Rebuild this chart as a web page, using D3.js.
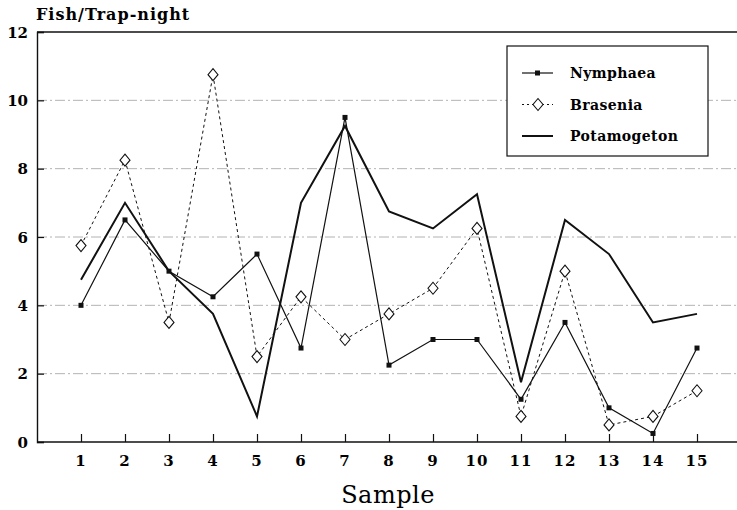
<!DOCTYPE html>
<html>
<head>
<meta charset="utf-8">
<script src="https://cdn.jsdelivr.net/npm/d3@7"></script>
<style>
  body { margin: 0; background: #fff; }
  svg { display: block; }
</style>
</head>
<body>
<div id="chart"></div>
<script>
// chart data
const samples = [1, 2, 3, 4, 5, 6, 7, 8, 9, 10, 11, 12, 13, 14, 15];
const nymphaea = [4, 6.5, 5, 4.25, 5.5, 2.75, 9.5, 2.25, 3, 3, 1.25, 3.5, 1, 0.25, 2.75];
const brasenia = [5.75, 8.25, 3.5, 10.75, 2.5, 4.25, 3, 3.75, 4.5, 6.25, 0.75, 5, 0.5, 0.75, 1.5];
const potamogeton = [4.75, 7, 5, 3.75, 0.75, 7, 9.25, 6.75, 6.25, 7.25, 1.75, 6.5, 5.5, 3.5, 3.75];
const yTicks = [0, 2, 4, 6, 8, 10, 12];
const seriesNames = ["Nymphaea", "Brasenia", "Potamogeton"];

const width = 737, height = 510;
const font = "'DejaVu Serif', serif";

const svg = d3.select("#chart")
  .append("svg")
    .attr("width", width)
    .attr("height", height);

// scales
const x = d3.scaleLinear().domain([0, 16]).range([37, 741]);
const y = d3.scaleLinear().domain([0, 12]).range([442, 32]);

// gridlines (dash-dot grey)
svg.append("g")
  .selectAll("line")
  .data(yTicks.filter(d => d > 0 && d < 12))
  .join("line")
    .attr("x1", x(0))
    .attr("x2", width)
    .attr("y1", d => y(d))
    .attr("y2", d => y(d))
    .attr("stroke", "#a0a0a0")
    .attr("stroke-width", 0.8)
    .attr("stroke-dasharray", "10,3,2,3");

// top frame line
svg.append("line")
  .attr("x1", x(0)).attr("x2", width)
  .attr("y1", y(12)).attr("y2", y(12))
  .attr("stroke", "#111").attr("stroke-width", 1.3);

// y axis
const yAxis = svg.append("g")
  .attr("transform", `translate(${x(0)},0)`)
  .call(d3.axisRight(y).tickValues(yTicks).tickSize(7).tickFormat(""));
yAxis.select(".domain").attr("stroke", "#111").attr("stroke-width", 1.4);
yAxis.selectAll(".tick line").attr("stroke", "#111").attr("stroke-width", 1.2);

svg.append("g")
  .selectAll("text")
  .data(yTicks)
  .join("text")
    .attr("x", 28)
    .attr("y", d => y(d) + 5.5)
    .attr("text-anchor", "end")
    .style("font-family", font)
    .style("font-weight", "bold")
    .style("font-size", "15px")
    .text(d => d);

// x axis
const xAxis = svg.append("g")
  .attr("transform", `translate(0,${y(0)})`)
  .call(d3.axisTop(x).tickValues(samples).tickSize(8).tickFormat(""));
xAxis.select(".domain").attr("d", `M${x(0)},0H${width}`).attr("stroke", "#111").attr("stroke-width", 1.4);
xAxis.selectAll(".tick line").attr("stroke", "#111").attr("stroke-width", 1.2);

svg.append("g")
  .selectAll("text")
  .data(samples)
  .join("text")
    .attr("x", d => x(d))
    .attr("y", 466)
    .attr("text-anchor", "middle")
    .style("font-family", font)
    .style("font-weight", "bold")
    .style("font-size", "15px")
    .style("letter-spacing", "1px")
    .text(d => d);

// axis titles
svg.append("text")
  .attr("x", 36)
  .attr("y", 20)
  .style("font-family", font)
  .style("font-weight", "bold")
  .style("font-size", "16px")
  .style("letter-spacing", "1px")
  .text("Fish/Trap-night");

svg.append("text")
  .attr("x", 388)
  .attr("y", 503)
  .attr("text-anchor", "middle")
  .style("font-family", font)
  .style("font-size", "24px")
  .style("letter-spacing", "0.5px")
  .text("Sample");

// lines
const line = d3.line()
  .x((d, i) => x(samples[i]))
  .y(d => y(d));

svg.append("path")
  .datum(potamogeton)
  .attr("d", line)
  .attr("fill", "none")
  .attr("stroke", "#111")
  .attr("stroke-width", 2);

svg.append("path")
  .datum(brasenia)
  .attr("d", line)
  .attr("fill", "none")
  .attr("stroke", "#111")
  .attr("stroke-width", 1)
  .attr("stroke-dasharray", "3,3");

svg.append("path")
  .datum(nymphaea)
  .attr("d", line)
  .attr("fill", "none")
  .attr("stroke", "#111")
  .attr("stroke-width", 1.2);

// markers
const diamond = "M0,-6L5,0L0,6L-5,0Z";

svg.append("g")
  .selectAll("path")
  .data(brasenia)
  .join("path")
    .attr("transform", (d, i) => `translate(${x(samples[i])},${y(d)})`)
    .attr("d", diamond)
    .attr("fill", "#fff")
    .attr("stroke", "#111")
    .attr("stroke-width", 1.1);

svg.append("g")
  .selectAll("rect")
  .data(nymphaea)
  .join("rect")
    .attr("x", (d, i) => x(samples[i]) - 2.5)
    .attr("y", d => y(d) - 2.5)
    .attr("width", 5)
    .attr("height", 5)
    .attr("fill", "#111");

// legend
const legend = svg.append("g").attr("transform", "translate(507,46)");
legend.append("rect")
  .attr("width", 201)
  .attr("height", 110)
  .attr("fill", "#fff")
  .attr("stroke", "#111")
  .attr("stroke-width", 1.2);

const rows = legend.selectAll(".row")
  .data(seriesNames)
  .join("g")
    .attr("class", "row")
    .attr("transform", (d, i) => `translate(0,${27 + i * 31.5})`);

rows.append("line")
  .attr("x1", 15).attr("x2", 46)
  .attr("stroke", "#111")
  .attr("stroke-width", (d, i) => i === 2 ? 2 : i === 0 ? 1.2 : 1)
  .attr("stroke-dasharray", (d, i) => i === 1 ? "2,3" : null);

rows.filter((d, i) => i === 0).append("rect")
  .attr("x", 28).attr("y", -2.5).attr("width", 5).attr("height", 5).attr("fill", "#111");
rows.filter((d, i) => i === 1).append("path")
  .attr("transform", "translate(31,0)")
  .attr("d", diamond)
  .attr("fill", "#fff").attr("stroke", "#111").attr("stroke-width", 1.1);

rows.append("text")
  .attr("x", 63)
  .attr("y", 5)
  .style("font-family", font)
  .style("font-weight", "bold")
  .style("font-size", "14px")
  .style("letter-spacing", "0.4px")
  .text(d => d);
</script>
</body>
</html>
